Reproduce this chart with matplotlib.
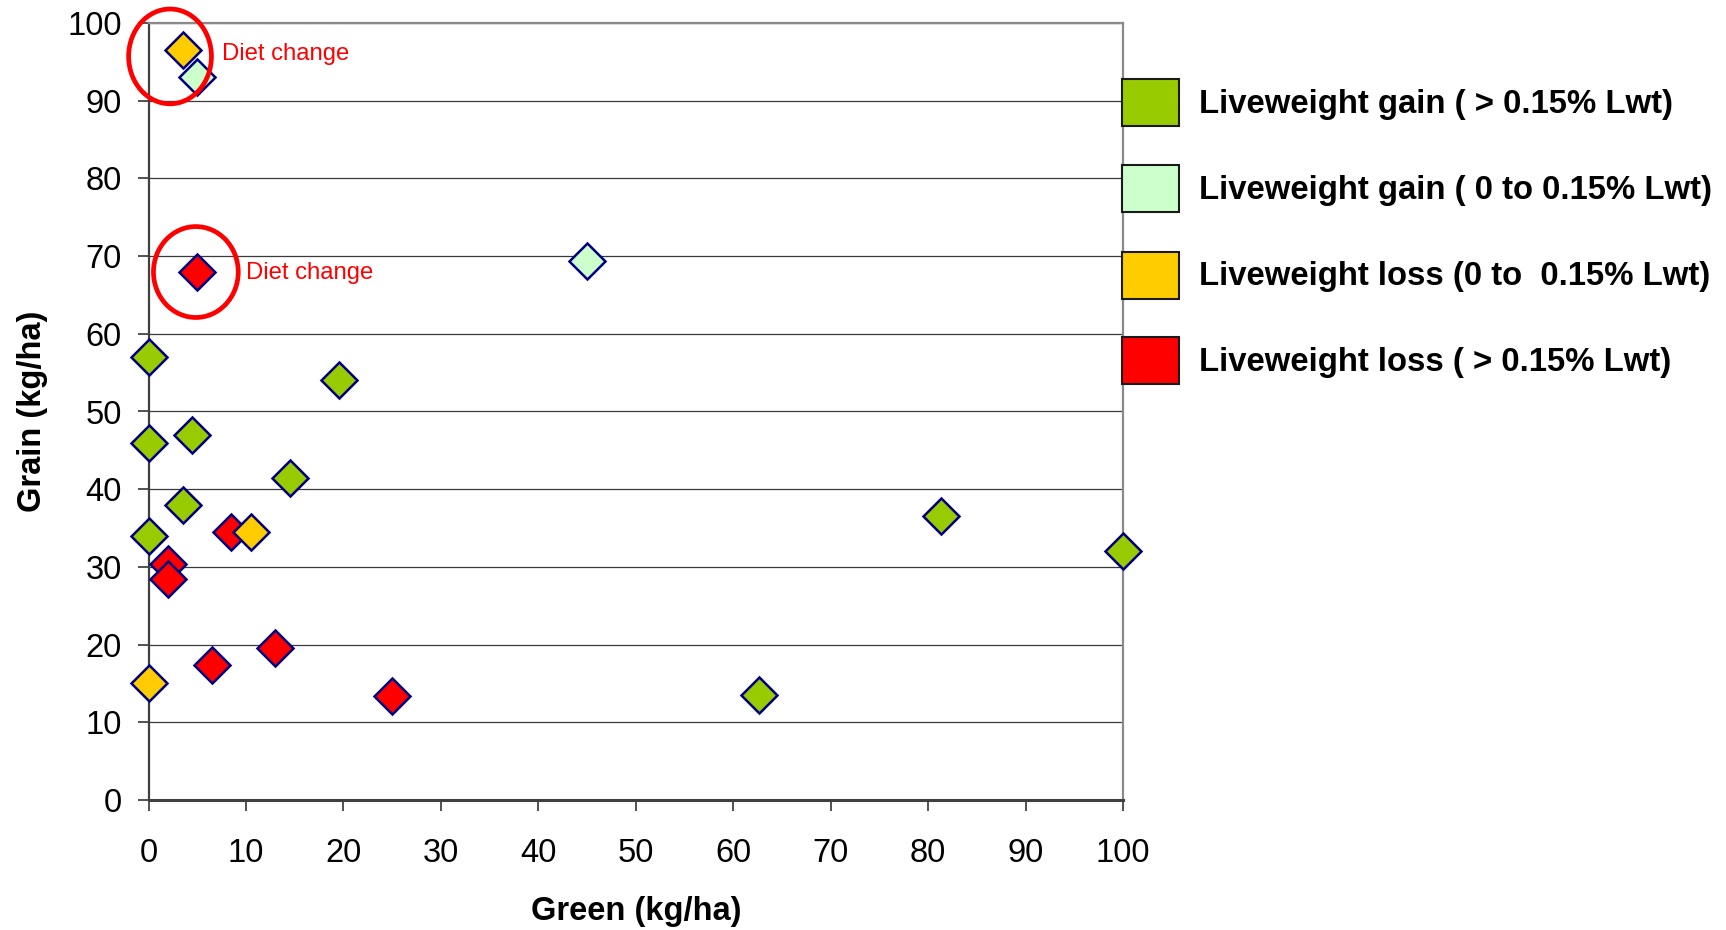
import matplotlib
matplotlib.use("Agg")
import matplotlib.pyplot as plt
from matplotlib.patches import Ellipse, Rectangle

plt.rcParams['font.family'] = ['Liberation Sans', 'DejaVu Sans']

# ---- data ----
gain_high_x = [0, 0, 4.5, 19.5, 14.5, 3.5, 0, 81.3, 100, 62.6]
gain_high_y = [57.0, 46.0, 47.0, 54.0, 41.5, 38.0, 34.0, 36.6, 32.0, 13.5]

loss_high_x = [5.0, 8.5, 2.0, 2.0, 6.5, 13.0, 25.0]
loss_high_y = [68.0, 34.5, 30.4, 28.5, 17.4, 19.5, 13.4]

loss_low_x = [3.5, 10.5, 0]
loss_low_y = [96.5, 34.5, 15.0]

gain_low_x = [5.0, 45.0]
gain_low_y = [93.0, 69.4]

labels = ["Liveweight gain ( > 0.15% Lwt)",
          "Liveweight gain ( 0 to 0.15% Lwt)",
          "Liveweight loss (0 to  0.15% Lwt)",
          "Liveweight loss ( > 0.15% Lwt)"]
colors = ["#99CC00", "#CCFFCC", "#FFCC00", "#FF0000"]

annot_text = "Diet change"
annot_pos = [(7.5, 95.2), (10.0, 67.1)]
circle_centers = [(2.2, 95.7), (4.85, 67.95)]
circle_sizes = [(8.5, 12.2), (8.7, 11.7)]

xticks = list(range(0, 101, 10))
yticks = list(range(0, 101, 10))

W, H = 1726, 930
fig = plt.figure(figsize=(W / 100, H / 100), dpi=100)
ax_l, ax_r, ax_b, ax_t = 148.6, 1123.0, 800.0, 23.0
ax = fig.add_axes([ax_l / W, 1 - ax_b / H, (ax_r - ax_l) / W, (ax_b - ax_t) / H])

ax.set_xlim(0, 100)
ax.set_ylim(0, 100)
ax.set_xticks(xticks)
ax.set_yticks(yticks)
ax.tick_params(axis='both', direction='out', length=8, width=1.2, color='#333333',
               labelsize=23.5)
ax.tick_params(axis='x', pad=19)
ax.tick_params(axis='y', pad=11.5)

for y in yticks[1:]:
    ax.axhline(y, color='#3a3a3a', lw=0.9, zorder=1)

for s in ['top', 'right']:
    ax.spines[s].set_color('#8a8a8a')
    ax.spines[s].set_linewidth(1.6)
ax.spines['left'].set_color('#404040')
ax.spines['left'].set_linewidth(1.6)
ax.spines['bottom'].set_color('#404040')
ax.spines['bottom'].set_linewidth(2.2)

ms, mew, ec = 18.8, 1.8, '#000080'
series = [(gain_high_x, gain_high_y, colors[0]),
          (loss_high_x, loss_high_y, colors[3]),
          (loss_low_x, loss_low_y, colors[2]),
          (gain_low_x, gain_low_y, colors[1])]
for i, (xs, ys, c) in enumerate(series):
    ax.plot(xs, ys, linestyle='none', marker='D', ms=ms, mew=mew, mfc=c, mec=ec,
            clip_on=False, zorder=3 + i)

for (cx, cy), (w, h) in zip(circle_centers, circle_sizes):
    ax.add_patch(Ellipse((cx, cy), w, h, fill=False, edgecolor='#FF0000', lw=3.4,
                         clip_on=False, zorder=10))
for (tx, ty) in annot_pos:
    ax.text(tx, ty, annot_text, color='#FF0000', fontsize=17.2, ha='left',
            va='baseline', zorder=10)

ax.set_xlabel("Green (kg/ha)", fontsize=23.5, fontweight='bold')
ax.set_ylabel("Grain (kg/ha)", fontsize=23.5, fontweight='bold')
ax.xaxis.set_label_coords(0.5, (ax_b - 911) / (ax_b - ax_t))
ax.xaxis.label.set_va('center')
ax.yaxis.set_label_coords((33 - ax_l) / (ax_r - ax_l), 0.5)
ax.yaxis.label.set_va('center')

# legend (manual)
leg_y = [103, 189, 275, 361]
sq_w, sq_h, sq_x, txt_x = 57, 47, 1122, 1199
for c, lab, yc in zip(colors, labels, leg_y):
    fig.add_artist(Rectangle((sq_x / W, 1 - (yc + sq_h / 2) / H), sq_w / W, sq_h / H,
                             transform=fig.transFigure, facecolor=c,
                             edgecolor='#1a1a1a', lw=1.5, zorder=20))
    fig.text(txt_x / W, 1 - (yc + 1) / H, lab, fontsize=23.7, fontweight='bold',
             ha='left', va='center', color='black')

fig.savefig("out.png", dpi=100)
